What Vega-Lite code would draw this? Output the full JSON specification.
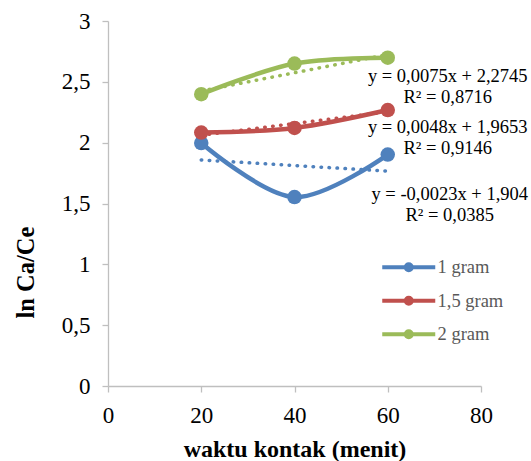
{
  "$schema": "https://vega.github.io/schema/vega-lite/v6.json",
  "width": 373,
  "height": 365,
  "autosize": "none",
  "padding": {"left": 108, "top": 21, "right": 50, "bottom": 75},
  "background": "white",
  "config": {"view": {"stroke": null}, "font": "Liberation Serif"},
  "datasets": {
    "main": [
      {"series": "1 gram", "x": 20, "y": 1.997},
      {"series": "1 gram", "x": 40, "y": 1.553},
      {"series": "1 gram", "x": 60, "y": 1.902},
      {"series": "1,5 gram", "x": 20, "y": 2.083},
      {"series": "1,5 gram", "x": 40, "y": 2.121},
      {"series": "1,5 gram", "x": 60, "y": 2.268},
      {"series": "2 gram", "x": 20, "y": 2.398},
      {"series": "2 gram", "x": 40, "y": 2.650},
      {"series": "2 gram", "x": 60, "y": 2.698}
    ],
    "trend": [
      {"series": "1 gram", "x": 20, "y": 1.858},
      {"series": "1 gram", "x": 60, "y": 1.766},
      {"series": "1,5 gram", "x": 20, "y": 2.0613},
      {"series": "1,5 gram", "x": 60, "y": 2.2533},
      {"series": "2 gram", "x": 20, "y": 2.4245},
      {"series": "2 gram", "x": 60, "y": 2.7245}
    ],
    "eqs": [
      {"series": "1 gram", "x": 60, "y": 1.766, "eq": "y = -0,0023x + 1,904\nR² = 0,0385"},
      {"series": "1,5 gram", "x": 60, "y": 2.2533, "eq": "y = 0,0048x + 1,9653\nR² = 0,9146"},
      {"series": "2 gram", "x": 60, "y": 2.7245, "eq": "y = 0,0075x + 2,2745\nR² = 0,8716"}
    ]
  },
  "encoding": {
    "x": {
      "field": "x", "type": "quantitative",
      "scale": {"domain": [0, 80], "nice": false, "zero": false},
      "axis": {
        "values": [0, 20, 40, 60, 80],
        "title": "waktu kontak (menit)",
        "grid": false,
        "domainColor": "#BFBFBF", "tickColor": "#BFBFBF", "domainWidth": 1.3, "tickWidth": 1.3, "tickSize": 6,
        "labelFont": "Liberation Serif", "labelFontSize": 23, "labelColor": "#000000",
        "labelBaseline": "alphabetic", "labelPadding": 30, "labelFlush": false,
        "titleFont": "Liberation Serif", "titleFontSize": 24, "titleFontWeight": "bold", "titleColor": "#000000",
        "titleBaseline": "alphabetic", "titleY": 70
      }
    },
    "y": {
      "field": "y", "type": "quantitative",
      "scale": {"domain": [0, 3], "nice": false, "zero": false},
      "axis": {
        "values": [0, 0.5, 1, 1.5, 2, 2.5, 3],
        "labelExpr": "replace(toString(datum.value), '.', ',')",
        "title": "ln Ca/Ce",
        "grid": false,
        "domainColor": "#BFBFBF", "tickColor": "#BFBFBF", "domainWidth": 1.3, "tickWidth": 1.3, "tickSize": 6,
        "labelFont": "Liberation Serif", "labelFontSize": 23, "labelColor": "#000000",
        "labelPadding": 12, "labelFlush": false,
        "titleFont": "Liberation Serif", "titleFontSize": 24.5, "titleFontWeight": "bold", "titleColor": "#000000",
        "titleAngle": 270, "titleBaseline": "alphabetic", "titleAlign": "center", "titleX": -75, "titleY": 251
      }
    }
  },
  "layer": [
    {
      "data": {"name": "main"},
      "mark": {"type": "line", "interpolate": "catmull-rom", "strokeWidth": 4.5, "strokeCap": "round"},
      "encoding": {
        "color": {
          "field": "series", "type": "nominal",
          "scale": {"domain": ["1 gram", "1,5 gram", "2 gram"], "range": ["#4F81BD", "#C0504D", "#9BBB59"]},
          "legend": {
            "title": null,
            "orient": "none", "legendX": 291.5, "legendY": 237,
            "padding": 0,
            "symbolType": "M-5.3,0L5.3,0M-0.6,0A0.6,0.6,0,1,1,0.6,0A0.6,0.6,0,1,1,-0.6,0Z",
            "symbolSize": 100,
            "symbolStrokeWidth": 4,
            "labelFont": "Liberation Serif", "labelFontSize": 18.5, "labelColor": "#595959",
            "labelOffset": 19.5, "rowPadding": 10.5,
            "encode": {"symbols": {"update": {
              "fill": {"scale": "color", "field": "value"},
              "stroke": {"scale": "color", "field": "value"},
              "strokeWidth": {"value": 4},
              "opacity": {"value": 1}
            }}}
          }
        }
      }
    },
    {
      "data": {"name": "main"},
      "mark": {"type": "point", "filled": true, "size": 210, "opacity": 1},
      "encoding": {
        "color": {"field": "series", "type": "nominal", "legend": null}
      }
    },
    {
      "data": {"name": "trend"},
      "mark": {"type": "line", "strokeWidth": 3.5, "strokeDash": [0.5, 7.5], "strokeCap": "round"},
      "encoding": {
        "color": {"field": "series", "type": "nominal", "legend": null},
        "detail": {"field": "series"}
      }
    },
    {
      "data": {"name": "eqs"},
      "transform": [{"filter": "datum.series === '2 gram'"}],
      "mark": {"type": "text", "align": "center", "baseline": "top", "lineBreak": "\n", "lineHeight": 21, "fontSize": 18.5, "font": "Liberation Serif", "color": "#000000", "dx": 60, "dy": 12},
      "encoding": {"text": {"field": "eq"}}
    },
    {
      "data": {"name": "eqs"},
      "transform": [{"filter": "datum.series === '1,5 gram'"}],
      "mark": {"type": "text", "align": "center", "baseline": "top", "lineBreak": "\n", "lineHeight": 21, "fontSize": 18.5, "font": "Liberation Serif", "color": "#000000", "dx": 60, "dy": 6},
      "encoding": {"text": {"field": "eq"}}
    },
    {
      "data": {"name": "eqs"},
      "transform": [{"filter": "datum.series === '1 gram'"}],
      "mark": {"type": "text", "align": "center", "baseline": "top", "lineBreak": "\n", "lineHeight": 21, "fontSize": 18.5, "font": "Liberation Serif", "color": "#000000", "dx": 62, "dy": 14},
      "encoding": {"text": {"field": "eq"}}
    }
  ]
}
